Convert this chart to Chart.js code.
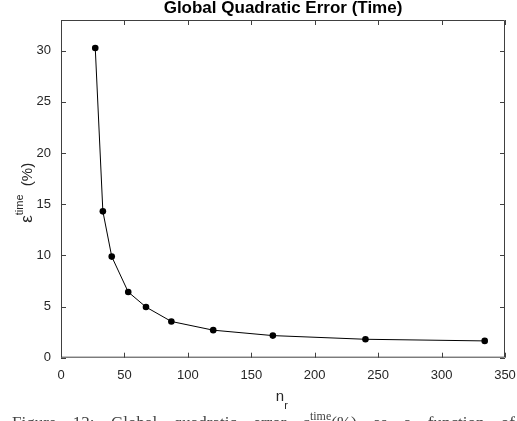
<!DOCTYPE html>
<html>
<head>
<meta charset="utf-8">
<script src="https://cdn.jsdelivr.net/npm/chart.js@4.4.1/dist/chart.umd.min.js"></script>
<style>
  html, body { margin: 0; padding: 0; background: #fff; }
  #wrap { width: 517px; height: 421px; }
</style>
</head>
<body>
<div id="wrap"><canvas id="errChart" width="517" height="421"></canvas></div>
<script>
const nr = [27, 33, 40, 53, 67, 87, 120, 167, 240, 334];
const errTime = [30.26, 14.3, 9.88, 6.42, 4.95, 3.54, 2.69, 2.16, 1.80, 1.64];
const xTicks = [0, 50, 100, 150, 200, 250, 300, 350];
const yTicks = [0, 5, 10, 15, 20, 25, 30];
const captionWords = ["Figure", "13:", "Global", "quadratic", "error", "\u03b5|time|(%)", "as", "a", "function", "of"];

const AXIS = "#404040";
const TEXT = "#262626";
const FONT = "'Liberation Sans', Arial, sans-serif";
const SERIF = "'Liberation Serif', serif";

// inward ticks, box, axis labels with sub/superscripts, clipped caption
const decorations = {
  id: "decorations",
  afterDraw(chart) {
    const ctx = chart.ctx;
    const a = chart.chartArea;
    const xs = chart.scales.x, ys = chart.scales.y;
    ctx.save();
    ctx.strokeStyle = AXIS;
    ctx.lineWidth = 1;
    ctx.beginPath();
    ctx.rect(a.left + 0.5, a.top + 0.5, a.right - a.left - 1, a.bottom - a.top - 1);
    xTicks.forEach(v => {
      const px = Math.round(xs.getPixelForValue(v)) + 0.5;
      ctx.moveTo(px, a.bottom); ctx.lineTo(px, a.bottom - 5);
      ctx.moveTo(px, a.top); ctx.lineTo(px, a.top + 5);
    });
    yTicks.forEach(v => {
      const py = Math.round(ys.getPixelForValue(v)) + 0.5;
      ctx.moveTo(a.left, py); ctx.lineTo(a.left + 5, py);
      ctx.moveTo(a.right, py); ctx.lineTo(a.right - 5, py);
    });
    ctx.stroke();

    // x label n_r
    const cx = (a.left + a.right) / 2;
    ctx.fillStyle = TEXT;
    ctx.textBaseline = "alphabetic";
    ctx.font = "15px " + FONT;
    const nW = ctx.measureText("n").width;
    ctx.textAlign = "left";
    ctx.fillText("n", cx - nW / 2 - 3, a.bottom + 43);
    ctx.font = "11px " + FONT;
    ctx.fillText("r", cx + nW / 2 - 3, a.bottom + 51);

    // y label eps^time (%)
    ctx.save();
    ctx.translate(32, (a.top + a.bottom) / 2 + 4);
    ctx.rotate(-Math.PI / 2);
    ctx.font = "17px " + FONT;
    const eW = ctx.measureText("\u03b5").width;
    ctx.font = "11px " + FONT;
    const tW = ctx.measureText("time").width;
    ctx.font = "15px " + FONT;
    const pW = ctx.measureText("  (%)").width;
    let x0 = -(eW + tW + pW) / 2;
    ctx.font = "17px " + FONT;
    ctx.fillText("\u03b5", x0, 0);
    ctx.font = "11px " + FONT;
    ctx.fillText("time", x0 + eW, -9);
    ctx.font = "15px " + FONT;
    ctx.fillText("  (%)", x0 + eW + tW, 0);
    ctx.restore();

    // caption of the source figure, justified and cut by the frame
    ctx.fillStyle = "#444";
    ctx.textAlign = "left";
    ctx.textBaseline = "top";
    const big = "17px " + SERIF, small = "12px " + SERIF;
    const widthOf = w => {
      if (w.includes("|")) {
        const [e, sup, rest] = w.split("|");
        ctx.font = big; let t = ctx.measureText(e).width + ctx.measureText(rest).width;
        ctx.font = small; t += ctx.measureText(sup).width;
        return t;
      }
      ctx.font = big; return ctx.measureText(w).width;
    };
    const widths = captionWords.map(widthOf);
    const total = widths.reduce((s, w) => s + w, 0);
    const gap = (515 - 12 - total) / (captionWords.length - 1);
    let x = 12;
    captionWords.forEach((w, i) => {
      if (w.includes("|")) {
        const [e, sup, rest] = w.split("|");
        ctx.font = big; ctx.fillText(e, x, 415);
        let xx = x + ctx.measureText(e).width;
        ctx.font = small; ctx.fillText(sup, xx, 411);
        xx += ctx.measureText(sup).width;
        ctx.font = big; ctx.fillText(rest, xx, 415);
      } else {
        ctx.font = big; ctx.fillText(w, x, 415);
      }
      x += widths[i] + gap;
    });
    ctx.restore();
  }
};

new Chart(document.getElementById("errChart"), {
  type: "line",
  data: {
    datasets: [{
      data: nr.map((v, i) => ({ x: v, y: errTime[i] })),
      borderColor: "#000",
      backgroundColor: "#000",
      borderWidth: 1,
      pointRadius: 3.3,
      pointHoverRadius: 3.3,
      pointBorderWidth: 0,
      tension: 0
    }]
  },
  options: {
    responsive: false,
    animation: false,
    layout: { padding: { left: 0, right: 12, top: 0, bottom: 0 } },
    plugins: {
      legend: { display: false },
      tooltip: { enabled: false },
      title: {
        display: true,
        fullSize: false,
        text: "Global Quadratic Error (Time)",
        color: "#000",
        font: { family: FONT, size: 17, weight: "bold", lineHeight: 1.0 },
        padding: { top: 0, bottom: 3 }
      }
    },
    scales: {
      x: {
        type: "linear",
        min: 0,
        max: 350,
        afterBuildTicks: s => { s.ticks = xTicks.map(v => ({ value: v })); },
        afterFit: s => { s.height = 63.3; s.paddingLeft = 0; s.paddingRight = 0; },
        grid: { display: false, drawTicks: false },
        border: { display: false },
        ticks: { color: TEXT, font: { family: FONT, size: 13 }, padding: 10, maxRotation: 0 }
      },
      y: {
        min: 0,
        max: 33,
        afterBuildTicks: s => { s.ticks = yTicks.map(v => ({ value: v })); },
        afterFit: s => { s.width = 61; s.paddingTop = 0; s.paddingBottom = 0; },
        grid: { display: false, drawTicks: false },
        border: { display: false },
        ticks: { color: TEXT, font: { family: FONT, size: 13 }, padding: 10 }
      }
    }
  },
  plugins: [decorations]
});
</script>
</body>
</html>
